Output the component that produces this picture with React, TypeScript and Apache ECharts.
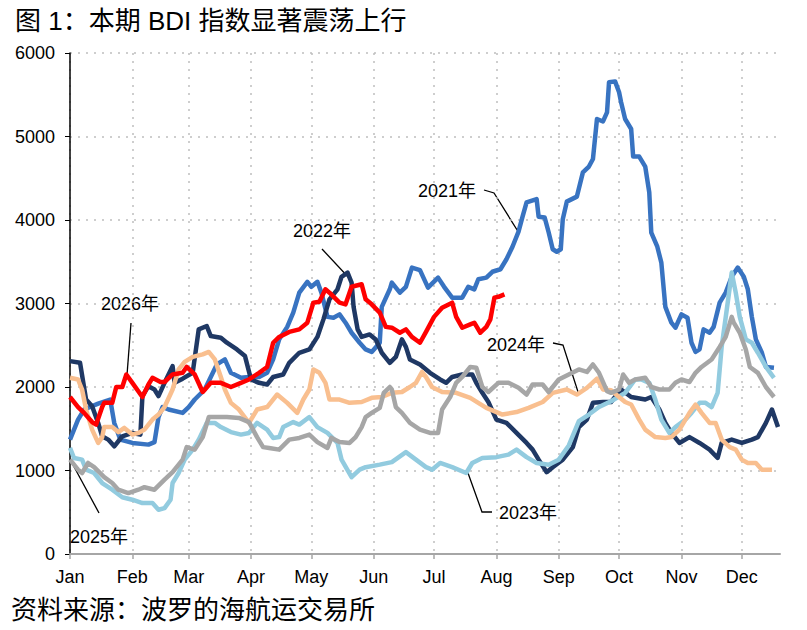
import React, { useRef, useEffect } from 'react';
import * as echarts from 'echarts';

// x 轴：按一年中的天数 (1月1日 = 0)
const months = ['Jan', 'Feb', 'Mar', 'Apr', 'May', 'Jun', 'Jul', 'Aug', 'Sep', 'Oct', 'Nov', 'Dec'];
const monthStartDays = [0, 31, 59, 90, 120, 151, 181, 212, 243, 273, 304, 334];
const yTicks = [0, 1000, 2000, 3000, 4000, 5000, 6000];

// [天数, BDI]
const bdi2021 = [
  [0, 1370], [4, 1610], [7, 1730], [14, 1800], [20, 1850], [22, 1570], [25, 1370], [31, 1330],
  [39, 1310], [42, 1340], [44, 1640], [46, 1760], [49, 1730], [56, 1690], [59, 1760], [62, 1850],
  [67, 1970], [70, 2120], [73, 2270], [77, 2330], [80, 2170], [85, 2110], [89, 2120], [94, 2120],
  [98, 2170], [101, 2330], [104, 2570], [108, 2720], [111, 2890], [114, 3130], [118, 3260], [120, 3200],
  [123, 3260], [125, 3130], [128, 2840], [131, 2830], [134, 2870], [137, 2770], [140, 2650], [144, 2530],
  [147, 2450], [150, 2420], [154, 2530], [155, 2960], [159, 3170], [160, 3250], [164, 3130], [167, 3200],
  [170, 3430], [174, 3400], [178, 3190], [183, 3310], [186, 3200], [190, 3070], [195, 3070], [198, 3200],
  [201, 3170], [203, 3290], [207, 3310], [210, 3380], [214, 3410], [217, 3530], [220, 3680], [223, 3860],
  [225, 4040], [227, 4210], [232, 4250], [233, 4040], [236, 4030], [238, 3850], [240, 3650], [242, 3620],
  [244, 3650], [245, 4010], [247, 4220], [252, 4280], [255, 4570], [258, 4640], [260, 4730], [262, 5210],
  [265, 5180], [267, 5290], [268, 5650], [271, 5660], [273, 5530], [274, 5410], [276, 5210], [279, 5090],
  [280, 4760], [283, 4760], [286, 4640], [288, 4330], [289, 3850], [292, 3680], [294, 3490], [296, 2960],
  [299, 2770], [301, 2710], [304, 2870], [307, 2830], [309, 2530], [311, 2420], [313, 2450], [315, 2690],
  [318, 2650], [320, 2720], [323, 3010], [326, 3130], [329, 3320], [332, 3430], [335, 3320], [337, 3170],
  [339, 2840], [341, 2570], [344, 2410], [346, 2240], [350, 2230],
];

const bdi2022 = [
  [0, 2310], [5, 2290], [8, 1850], [11, 1770], [14, 1570], [16, 1410], [19, 1370], [22, 1290],
  [26, 1410], [31, 1450], [35, 1430], [36, 1890], [39, 2010], [42, 1970], [44, 1890], [47, 2050],
  [51, 2250], [52, 2050], [56, 2100], [61, 2170], [64, 2690], [68, 2730], [70, 2610], [75, 2590],
  [78, 2530], [83, 2450], [87, 2370], [90, 2090], [94, 2050], [98, 2030], [101, 2120], [106, 2150],
  [109, 2290], [114, 2410], [119, 2450], [123, 2600], [126, 2810], [129, 3050], [133, 3170], [135, 3320],
  [138, 3370], [140, 3250], [141, 2960], [143, 2690], [145, 2600], [149, 2630], [152, 2570], [155, 2410],
  [159, 2290], [162, 2360], [165, 2570], [167, 2480], [169, 2330], [174, 2270], [179, 2170], [184, 2090],
  [187, 2050], [190, 2120], [195, 2150], [200, 2150], [202, 2050], [205, 1930], [208, 1820], [212, 1610],
  [217, 1570], [222, 1450], [227, 1330], [230, 1250], [233, 1130], [237, 980], [240, 1040], [245, 1130],
  [250, 1280], [253, 1520], [257, 1610], [260, 1810], [265, 1820], [269, 1820], [274, 1970], [279, 1880],
  [286, 1850], [289, 1880], [293, 1730], [296, 1570], [299, 1450], [303, 1330], [308, 1400], [313, 1330],
  [318, 1250], [322, 1150], [324, 1330], [329, 1370], [334, 1330], [339, 1370], [342, 1400], [346, 1570],
  [349, 1730], [352, 1520],
];

const bdi2023 = [
  [0, 1270], [2, 1150], [6, 1130], [8, 1010], [12, 970], [16, 850], [21, 770], [26, 680],
  [31, 650], [36, 610], [41, 610], [44, 530], [47, 550], [50, 650], [51, 850], [54, 970],
  [57, 1130], [61, 1250], [64, 1370], [68, 1570], [72, 1570], [75, 1520], [80, 1460], [85, 1430],
  [89, 1450], [93, 1570], [98, 1490], [101, 1390], [104, 1400], [106, 1520], [111, 1580], [114, 1550],
  [119, 1640], [123, 1520], [128, 1450], [133, 1330], [135, 1130], [140, 920], [144, 1010], [147, 1040],
  [154, 1070], [160, 1100], [167, 1220], [172, 1130], [177, 1040], [180, 1010], [184, 1090], [190, 1040],
  [197, 970], [200, 1090], [205, 1150], [212, 1160], [218, 1190], [222, 1250], [227, 1160], [232, 1090],
  [238, 1070], [243, 1130], [248, 1300], [253, 1590], [258, 1670], [263, 1760], [269, 1830], [276, 1930],
  [281, 2090], [284, 2090], [288, 2050], [291, 1850], [294, 1610], [298, 1450], [301, 1520], [306, 1610],
  [309, 1690], [313, 1810], [316, 1810], [319, 1760], [322, 1930], [324, 2480], [327, 3010], [329, 3370],
  [331, 3130], [333, 2840], [336, 2570], [339, 2530], [342, 2410], [346, 2240], [350, 2110],
];

const bdi2024 = [
  [0, 2110], [4, 2090], [6, 1970], [8, 1730], [11, 1490], [14, 1330], [16, 1400], [17, 1520],
  [21, 1520], [24, 1460], [27, 1510], [31, 1430], [34, 1450], [37, 1490], [41, 1610], [44, 1670],
  [47, 1760], [51, 1970], [54, 2210], [57, 2300], [61, 2360], [66, 2390], [69, 2420], [72, 2330],
  [75, 2120], [77, 1970], [80, 1810], [84, 1730], [89, 1570], [93, 1730], [98, 1760], [103, 1910],
  [108, 1810], [113, 1690], [116, 1850], [119, 1970], [121, 2210], [124, 2170], [127, 2050], [129, 1850],
  [134, 1850], [139, 1810], [145, 1820], [150, 1870], [155, 1880], [160, 1930], [165, 1940], [169, 2000],
  [172, 2050], [175, 2180], [177, 2120], [180, 2000], [185, 1940], [192, 1930], [199, 1870], [207, 1750],
  [215, 1670], [222, 1700], [228, 1750], [235, 1820], [240, 1930], [247, 1970], [252, 1910], [257, 1990],
  [262, 2100], [265, 1970], [269, 1960], [273, 1880], [276, 1820], [279, 1790], [283, 1610], [286, 1490],
  [291, 1400], [296, 1390], [299, 1400], [303, 1490], [308, 1690], [311, 1790], [314, 1690], [318, 1570],
  [321, 1570], [324, 1370], [328, 1280], [331, 1250], [334, 1130], [337, 1090], [341, 1090], [344, 1010],
  [349, 1010],
];

const bdi2025 = [
  [0, 1130], [4, 1010], [6, 970], [9, 1090], [12, 1040], [17, 920], [21, 850], [24, 770],
  [29, 730], [34, 770], [37, 800], [42, 770], [47, 890], [51, 980], [56, 1130], [58, 1280],
  [62, 1250], [66, 1400], [69, 1640], [73, 1640], [78, 1640], [84, 1630], [89, 1580], [93, 1400],
  [96, 1280], [99, 1270], [104, 1250], [109, 1370], [114, 1390], [119, 1430], [123, 1340], [128, 1270],
  [130, 1390], [134, 1340], [139, 1330], [142, 1400], [145, 1520], [147, 1640], [150, 1690], [154, 1750],
  [156, 1930], [159, 2000], [160, 1970], [162, 1760], [165, 1690], [169, 1570], [174, 1490], [179, 1450],
  [183, 1450], [185, 1730], [189, 1880], [192, 2050], [195, 2120], [199, 2240], [202, 2230], [205, 2000],
  [208, 1940], [213, 2050], [218, 2050], [223, 1990], [227, 1910], [230, 2030], [235, 2030], [238, 1940],
  [243, 2090], [248, 2150], [253, 2210], [257, 2180], [260, 2270], [263, 2170], [267, 1950], [269, 1930],
  [273, 1970], [275, 2150], [278, 2050], [281, 2090], [286, 2110], [289, 2000], [293, 1970], [298, 1970],
  [301, 2050], [304, 2090], [308, 2060], [311, 2170], [314, 2240], [319, 2330], [323, 2480], [326, 2600],
  [329, 2840], [330, 2770], [333, 2650], [336, 2450], [338, 2240], [342, 2170], [346, 2000], [350, 1880],
];

const bdi2026 = [
  [0, 1880], [4, 1760], [7, 1690], [11, 1580], [13, 1550], [16, 1760], [17, 1810], [21, 1810],
  [23, 2000], [26, 2000], [28, 2150], [31, 2050], [36, 1880], [39, 2030], [41, 2110], [45, 2060],
  [47, 2060], [51, 2150], [56, 2170], [58, 2240], [62, 2150], [66, 1940], [70, 2050], [75, 2050],
  [80, 2000], [85, 2050], [89, 2090], [94, 2170], [98, 2240], [101, 2530], [104, 2600], [109, 2660],
  [114, 2690], [118, 2770], [121, 3010], [124, 3020], [127, 3170], [129, 3130], [134, 3010], [137, 2990],
  [140, 3200], [145, 3230], [147, 3050], [150, 2990], [154, 2890], [157, 2720], [160, 2710], [164, 2650],
  [167, 2690], [170, 2600], [174, 2530], [177, 2660], [181, 2840], [185, 2950], [190, 3010], [192, 2840],
  [195, 2710], [199, 2750], [201, 2770], [204, 2650], [207, 2720], [209, 2810], [211, 3070], [213, 3080],
  [216, 3110],
];

const seriesNames = ['2021年', '2022年', '2023年', '2024年', '2025年', '2026年'];
const seriesData = [bdi2021, bdi2022, bdi2023, bdi2024, bdi2025, bdi2026];
const seriesColors = ['#3873c1', '#1f3864', '#92cbdf', '#f9bf8f', '#a6a6a6', '#ff0000'];

const FONT = '"Liberation Sans", Arial, "Noto Sans CJK SC", sans-serif';

const note = (text: string, x: number, y: number, pts: number[][]) => [
  {
    type: 'text',
    x,
    y,
    style: { text, fontSize: 18, fontFamily: FONT, fill: '#000', textVerticalAlign: 'middle' },
  },
  {
    type: 'polyline',
    shape: { points: pts },
    style: { stroke: '#000', lineWidth: 1.3, fill: null },
  },
];

const BdiChart = () => {
  const chartRef = useRef(null);

  useEffect(() => {
    const myChart = echarts.init(chartRef.current, null, { renderer: 'svg' });

    const option = {
      animation: false,
      backgroundColor: '#fff',
      title: {
        text: '图 1：本期 BDI 指数显著震荡上行',
        left: 10,
        top: 3,
        textStyle: { fontSize: 26, fontWeight: 'normal', color: '#000', fontFamily: FONT },
      },
      grid: { left: 70, right: 27, top: 53, bottom: 76 },
      xAxis: {
        type: 'value',
        min: 0,
        max: 353,
        axisLine: { lineStyle: { color: '#a6a6a6', width: 2 } },
        axisTick: { show: true, length: 5, customValues: monthStartDays, lineStyle: { color: '#a6a6a6', width: 1.5 } },
        axisLabel: {
          customValues: monthStartDays,
          formatter: (v: number) => months[monthStartDays.indexOf(v)] || '',
          fontSize: 18,
          color: '#000',
          fontFamily: FONT,
          margin: 14,
        },
        splitLine: { show: true, lineStyle: { color: '#bfbfbf', width: 1.5, type: [2, 6] } },
      },
      yAxis: {
        type: 'value',
        min: 0,
        max: 6000,
        interval: 1000,
        axisLine: { show: true, lineStyle: { color: '#000', width: 1.5 } },
        axisTick: { show: true, length: 5, lineStyle: { color: '#000' } },
        axisLabel: {
          fontSize: 18,
          color: '#000',
          fontFamily: FONT,
          margin: 15,
          formatter: (v: number) => (yTicks.includes(v) ? String(v) : ''),
        },
        splitLine: { show: true, lineStyle: { color: '#bfbfbf', width: 1.5, type: [2, 6] } },
      },
      series: seriesData.map((d, i) => ({
        name: seriesNames[i],
        type: 'line',
        data: d,
        showSymbol: false,
        symbol: 'none',
        smooth: false,
        lineStyle: { color: seriesColors[i], width: 4.5, join: 'round' },
        itemStyle: { color: seriesColors[i] },
      })),
      graphic: [
        ...note('2021年', 418, 191, [[484, 190], [494, 193], [519, 233]]),
        ...note('2022年', 293, 231, [[322, 249], [350, 279]]),
        ...note('2026年', 101, 304, [[131, 323], [127, 375]]),
        ...note('2025年', 70, 537, [[99, 513], [72, 463]]),
        ...note('2024年', 487, 345, [[553, 343], [563, 345], [579, 395]]),
        ...note('2023年', 499, 513, [[492, 512], [482, 512], [468, 473]]),
        {
          type: 'text',
          x: 11,
          y: 610,
          style: {
            text: '资料来源：波罗的海航运交易所',
            fontSize: 26,
            fontFamily: FONT,
            fill: '#000',
            textVerticalAlign: 'middle',
          },
        },
      ],
    };

    myChart.setOption(option);

    return () => {
      myChart.dispose();
    };
  }, []);

  return (
    <div
      ref={chartRef}
      style={{ position: 'fixed', left: 0, top: 0, width: '807px', height: '630px' }}
    />
  );
};

export default BdiChart;
